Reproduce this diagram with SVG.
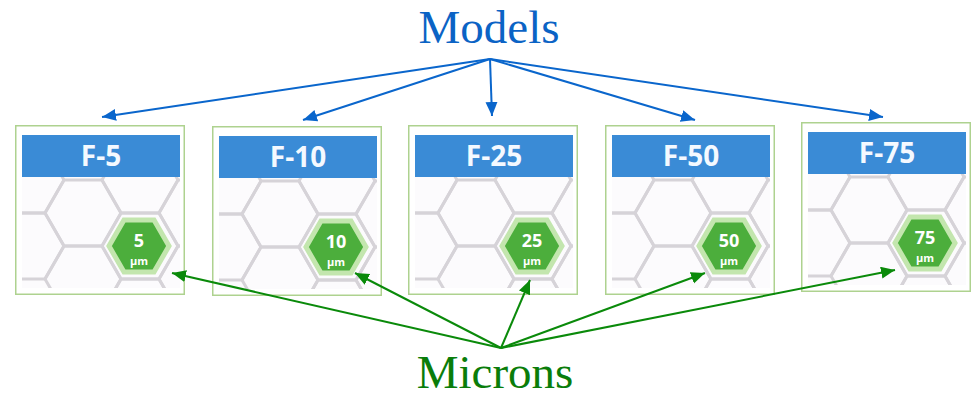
<svg xmlns="http://www.w3.org/2000/svg" xmlns:xlink="http://www.w3.org/1999/xlink" width="971" height="395" viewBox="0 0 971 395">
<style>
.title{font-family:"Liberation Serif","Times New Roman",serif;font-size:47px;text-anchor:middle}
.hdr{font-family:"Open Sans","Liberation Sans",sans-serif;font-weight:bold;font-size:28px;fill:#f4f9ff;text-anchor:middle}
.num{font-family:"Open Sans","Liberation Sans",sans-serif;font-weight:bold;font-size:18px;fill:#ffffff;text-anchor:middle}
.um{font-family:"Open Sans","Liberation Sans",sans-serif;font-weight:bold;font-size:11px;fill:#ffffff;text-anchor:middle}
.blue{stroke:#0a66cc;stroke-width:2;fill:none}
.green{stroke:#0a8a0a;stroke-width:2;fill:none}
.lat{fill:none;stroke:#d6d3d8;stroke-width:3}
</style>
<defs>
<marker id="ab" markerUnits="userSpaceOnUse" markerWidth="16" markerHeight="14" refX="14" refY="6" orient="auto"><path d="M0,0 L14,6 L0,12 Z" fill="#0a66cc"/></marker>
<marker id="ag" markerUnits="userSpaceOnUse" markerWidth="16" markerHeight="14" refX="14" refY="6" orient="auto"><path d="M0,0 L14,6 L0,12 Z" fill="#0a8a0a"/></marker>
<clipPath id="lc"><rect x="7" y="52" width="158" height="111"/></clipPath>
<path id="hx" d="M38,0 L19,32.9 L-19,32.9 L-38,0 L-19,-32.9 L19,-32.9 Z"/>
<path id="gh" d="M30,0 L15,26 L-15,26 L-30,0 L-15,-26 L15,-26 Z"/>
<g id="card">
<rect x="0.75" y="0.75" width="168.5" height="168.5" fill="#ffffff" stroke="#aed28f" stroke-width="1.5"/>
<rect x="7" y="52" width="158" height="111" fill="#fcfbfd"/>
<g clip-path="url(#lc)" class="lat">
<use xlink:href="#hx" x="11" y="55"/>
<use xlink:href="#hx" x="11" y="121"/>
<use xlink:href="#hx" x="68" y="88"/>
<use xlink:href="#hx" x="68" y="154"/>
<use xlink:href="#hx" x="125" y="55"/>
<use xlink:href="#hx" x="125" y="121"/>
<use xlink:href="#hx" x="125" y="187"/>
<use xlink:href="#hx" x="182" y="88"/>
<use xlink:href="#hx" x="182" y="154"/>
</g>
<rect x="7" y="10" width="158" height="42" fill="#3a8bd6"/>
<use xlink:href="#gh" x="124" y="121" fill="#4cae3c" stroke="#c3e6ae" stroke-width="5"/>
</g>
</defs>

<text class="title" x="489" y="43" fill="#0b63c5">Models</text>
<text class="title" x="495" y="388" fill="#0a7d0a">Microns</text>

<g id="card-f5" transform="translate(15,125)">
<use xlink:href="#card"/>
<text class="hdr" x="86" y="41">F-5</text>
<text class="num" x="124" y="122">5</text>
<text class="um" x="124" y="140">μm</text>
</g>
<g id="card-f10" transform="translate(212,126)">
<use xlink:href="#card"/>
<text class="hdr" x="86" y="41">F-10</text>
<text class="num" x="124" y="122">10</text>
<text class="um" x="124" y="140">μm</text>
</g>
<g id="card-f25" transform="translate(408,125)">
<use xlink:href="#card"/>
<text class="hdr" x="86" y="41">F-25</text>
<text class="num" x="124" y="122">25</text>
<text class="um" x="124" y="140">μm</text>
</g>
<g id="card-f50" transform="translate(605,125)">
<use xlink:href="#card"/>
<text class="hdr" x="86" y="41">F-50</text>
<text class="num" x="124" y="122">50</text>
<text class="um" x="124" y="140">μm</text>
</g>
<g id="card-f75" transform="translate(801,122)">
<use xlink:href="#card"/>
<text class="hdr" x="86" y="41">F-75</text>
<text class="num" x="124" y="122">75</text>
<text class="um" x="124" y="140">μm</text>
</g>

<g id="connectors">
<line class="blue" x1="490" y1="59" x2="102" y2="117" marker-end="url(#ab)"/>
<line class="blue" x1="490" y1="59" x2="303" y2="120" marker-end="url(#ab)"/>
<line class="blue" x1="490" y1="59" x2="492" y2="116" marker-end="url(#ab)"/>
<line class="blue" x1="490" y1="59" x2="695" y2="120" marker-end="url(#ab)"/>
<line class="blue" x1="490" y1="59" x2="883" y2="117" marker-end="url(#ab)"/>
<line class="green" x1="501" y1="348" x2="172" y2="273" marker-end="url(#ag)"/>
<line class="green" x1="501" y1="348" x2="355" y2="273" marker-end="url(#ag)"/>
<line class="green" x1="501" y1="348" x2="530" y2="280" marker-end="url(#ag)"/>
<line class="green" x1="501" y1="348" x2="705" y2="273" marker-end="url(#ag)"/>
<line class="green" x1="501" y1="348" x2="895" y2="270" marker-end="url(#ag)"/>
</g>
</svg>
